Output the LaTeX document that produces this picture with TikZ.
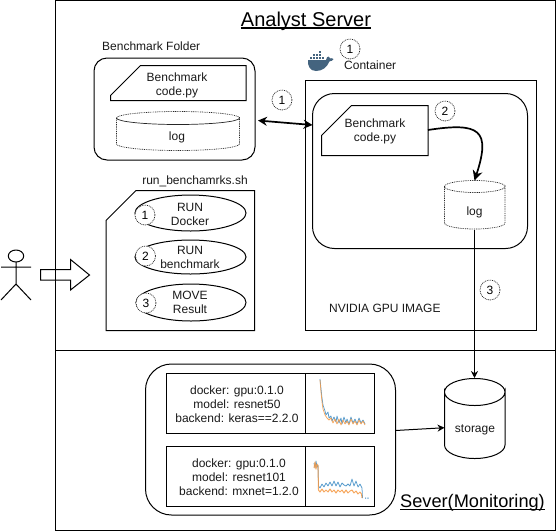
\documentclass[tikz,border=0pt]{standalone}
\usepackage{fontspec}
\setmainfont{Liberation Sans}
\usetikzlibrary{arrows.meta,shapes.geometric}
\newcommand\ulin[1]{\setbox0\hbox{#1}\rlap{\rule[-2.4pt]{\wd0}{1.1pt}}\box0}
\newcommand\cylshape[6]{% x0 x1 ytop ybottom ry style
  \draw[#6] (#1,#3+#5) arc[start angle=180,end angle=360,x radius={(#2-#1)/2},y radius=#5]
    arc[start angle=0,end angle=180,x radius={(#2-#1)/2},y radius=#5]
    (#1,#3+#5) arc[start angle=180,end angle=0,x radius={(#2-#1)/2},y radius=#5]
    -- (#2,#4-#5) arc[start angle=0,end angle=180,x radius={(#2-#1)/2},y radius=#5] -- cycle;}
\newcommand\notebox[5]{% x0 y0 x1 y1 cut
  \draw[shapeline] (#1,#2+#5) -- (#1+#5,#2) -- (#3,#2) -- (#3,#4) -- (#1,#4) -- cycle;}
\tikzset{
  shapeline/.style={draw=black,line width=1pt,line join=miter},
  dotline/.style={draw=black!85,line width=.7pt,dash pattern=on .9pt off .9pt},
  lbl/.style={font=\fontsize{12}{14}\selectfont,align=center,inner sep=0pt,text=black!90},
  anchorbox/.style={inner sep=0pt,outer sep=0pt,font=\fontsize{12}{14}\selectfont,align=center,text=black!90},
  numc/.style={circle,dotline,minimum size=20pt,inner sep=0pt,fill=white,font=\fontsize{12}{14}\selectfont},
  roundbox/.style={shapeline,rectangle,rounded corners=#1,inner sep=0pt,outer sep=0pt},
  oval/.style={ellipse,shapeline,inner sep=0pt,outer sep=0pt,fill=white,font=\fontsize{12}{14}\selectfont,align=center},
  conn/.style={draw=black,line width=1pt,-{Stealth[length=7pt,width=7pt]}},
  thickconn/.style={draw=black,line width=1.7pt},
  bluec/.style={draw=blue1,line width=.75pt,opacity=.85,line join=round},
  orangec/.style={draw=orange1,line width=.75pt,opacity=.85,line join=round}
}
\definecolor{blue1}{HTML}{3A8AC4}
\definecolor{orange1}{HTML}{F59A45}
\definecolor{whale}{HTML}{44647F}
\begin{document}
\begin{tikzpicture}[x=1pt,y=-1pt]
\useasboundingbox (0,0) rectangle (556,531);
% frames
\node[shapeline,minimum width=500pt,minimum height=350pt,inner sep=0pt,outer sep=0pt,anchor=north west] (server) at (55.5,.5) {};
\node[shapeline,minimum width=500pt,minimum height=180pt,inner sep=0pt,outer sep=0pt,anchor=north west] (monitor) at (55.5,350.5) {};
\node[inner sep=0pt,font=\fontsize{20}{24}\selectfont] (title) at (306,21) {\ulin{Analyst Server}};
\node[inner sep=0pt,font=\fontsize{18.2}{24}\selectfont] (title2) at (472.5,503) {\ulin{Sever(Monitoring)}};

% benchmark folder
\node[lbl,anchor=west] (foldertxt) at (102,46) {Benchmark Folder};
\node[roundbox=13pt,minimum width=161pt,minimum height=102pt] (folder) at (174.5,109) {};
\notebox{110.5}{65.5}{246}{100.5}{30}
\node[anchorbox] (doc1) at (177,85) {Benchmark\\code.py};
\cylshape{116.5}{239.5}{111.5}{150.5}{6.5}{dotline}
\node[anchorbox] (log1) at (177,137) {log};

% script
\node[lbl] (scripttxt) at (195,181) {run\_benchamrks.sh};
\notebox{106}{190.5}{254.5}{330.5}{30}
\node[oval,minimum width=111pt,minimum height=36pt] (e1) at (190.5,213) {};
\node[oval,minimum width=111pt,minimum height=34pt] (e2) at (190.5,257) {};
\node[oval,minimum width=110pt,minimum height=37pt] (e3) at (191,302.5) {};
\node[anchorbox] (e1t) at (190,214) {RUN\\Docker};
\node[anchorbox] (e2t) at (190,257.5) {RUN\\benchmark};
\node[anchorbox] (e3t) at (190,302.5) {MOVE\\Result};
\node[numc] (n1) at (145,215) {1};
\node[numc] (n2) at (145.5,256) {2};
\node[numc] (n3) at (146,303) {3};

% actor
\draw[shapeline] (16,256) ellipse[x radius=7.7,y radius=6];
\draw[shapeline] (16,262) -- (16,284) (1,267) -- (31,267) (1,300) -- (16,284) -- (31,300);
% block arrow
\draw[shapeline] (40.5,269.5) -- (70.5,269.5) -- (70.5,259.5) -- (89.5,275) -- (70.5,290) -- (70.5,280) -- (40.5,280) -- cycle;

% container
\node[shapeline,minimum width=231pt,minimum height=250pt,inner sep=0pt,outer sep=0pt,anchor=north west] (gpu) at (305.5,80.5) {};
\node[roundbox=22pt,minimum width=215pt,minimum height=155pt,anchor=north west] (cont) at (312.5,93.5) {};
\notebox{321.5}{105.5}{428}{155.5}{30}
\node[anchorbox,minimum width=106pt,minimum height=50pt] (doc2) at (375,130) {};
\node[anchorbox] (doc2t) at (375,131) {Benchmark\\code.py};
\cylshape{444.5}{505}{180.5}{229}{6}{dotline}
\node[anchorbox,minimum width=60pt,minimum height=49pt] (log2) at (474.5,205) {};
\node[anchorbox] (log2t) at (474.5,212) {log};
\node[lbl,anchor=west] (nvidia) at (329,308) {NVIDIA GPU IMAGE};
\node[lbl,anchor=west] (contt) at (344,65) {Container};
\node[numc] (c1) at (350,49) {1};
\node[numc] (c2) at (445,111) {2};
\node[numc] (c3) at (490,290) {3};
\node[numc] (c4) at (282,100) {1};

% docker whale
\fill[whale] (308,60) -- (326,60) .. controls (326.5,57.5) and (327.5,56.5) .. (328.5,56.5)
  .. controls (329.5,57.5) and (330,58) .. (330.3,58.5) .. controls (331,58) and (332.5,58) .. (333.5,59)
  .. controls (332.5,60.8) and (331,61.3) .. (329.5,61.3) .. controls (327,67.5) and (322,71) .. (316,71)
  .. controls (310,71) and (307.5,66) .. (308,60) -- cycle;
\foreach \bx/\by in {309.5/56.5,312.5/56.5,315.5/56.5,318.5/56.5,321.5/56.5,312.5/53.5,315.5/53.5,318.5/53.5,318.5/50.5}
  \fill[whale] (\bx,\by) rectangle ++(2.4,2.6);

% connectors upper
\draw[thickconn,{Stealth[length=9pt,width=9pt]}-{Stealth[length=9pt,width=9pt]}] (folder.east) ++(3,11.5) coordinate (fa) -- (cont.west |- 0,125) coordinate (ca);
\coordinate (cs) at (doc2.east);
\coordinate (ct) at (log2.north);
\draw[thickconn,-{Stealth[length=10pt,width=10pt]}] (cs) .. controls (480,122) and (491,130) .. (ct);
\draw[conn] (log2.south) -- (474.5,378);

% monitoring
\node[roundbox=26pt,minimum width=250pt,minimum height=151pt] (mon) at (270.5,439.5) {};
\node[shapeline,minimum width=208pt,minimum height=60pt,inner sep=0pt,outer sep=0pt] (card1) at (270.5,403.5) {};
\node[shapeline,minimum width=208pt,minimum height=60pt,inner sep=0pt,outer sep=0pt] (card2) at (270.5,476.5) {};
\draw[shapeline] (305.5,373.5) -- (305.5,433.5) (305.5,446.5) -- (305.5,506.5);
\node[anchorbox] (t1) at (237,404) {docker: gpu:0.1.0\\model: resnet50\\backend: keras==2.2.0};
\node[anchorbox] (t2) at (239,477) {docker: gpu:0.1.0\\model: resnet101\\backend: mxnet=1.2.0};
% charts
\draw[bluec] (320,379) -- (321,389) -- (322,398) -- (323,405) -- (325,411) -- (326,415) -- (328,412) -- (329,418) -- (331,416) -- (332,421) -- (334,417) -- (336,422) -- (337,416) -- (339,423) -- (341,418) -- (342,424) -- (344,417) -- (346,423) -- (347,419) -- (349,424) -- (351,417) -- (353,423) -- (355,419) -- (357,424) -- (359,418) -- (361,423) -- (363,420) -- (365,424);
\draw[orangec] (320,380) -- (321,392) -- (322,402) -- (323,409) -- (325,415) -- (327,418) -- (329,420) -- (331,418) -- (333,423) -- (335,419) -- (337,424) -- (339,419) -- (341,425) -- (343,420) -- (345,424) -- (347,421) -- (349,425) -- (351,419) -- (353,424) -- (355,421) -- (357,425) -- (359,420) -- (361,424) -- (363,421) -- (365,425);
\draw[bluec] (314,463) -- (315,468) -- (316,461) -- (317,467) -- (318,465) -- (318.5,486) -- (320,488) -- (322,484) -- (324,487) -- (326,483) -- (328,486) -- (330,482) -- (332,486) -- (334,481) -- (336,486) -- (338,482) -- (340,487) -- (342,483) -- (344,485) -- (346,486) -- (348,484) -- (350,486) -- (352,479) -- (354,486) -- (356,481) -- (358,487) -- (360,484) -- (362,488) -- (362.5,498);
\draw[orangec,line width=1pt] (314,468) -- (315,462) -- (316,469) -- (317,464) -- (318,466) -- (318.5,490) -- (320,492) -- (322,489) -- (324,492) -- (326,490) -- (328,492) -- (330,489) -- (332,492) -- (334,490) -- (336,493) -- (338,490) -- (340,492) -- (342,490) -- (344,493) -- (346,490) -- (348,493) -- (350,491) -- (352,490) -- (354,493) -- (356,491) -- (358,494) -- (360,492) -- (361.5,494) -- (362,498);
\fill[blue1] (365,497.7) rectangle ++(1.2,1) (367.3,497.7) rectangle ++(1.2,1);

% storage
\cylshape{444.5}{505}{378.5}{458.5}{13.5}{shapeline}
\node[anchorbox,minimum width=60pt,minimum height=80pt] (storage) at (474.5,418.5) {};
\node[anchorbox] (storaget) at (475,430) {storage};
\draw[conn] (mon.east) ++(0,-9) coordinate (ms) -- (storage.west |- 0,427.7) coordinate (st);
\end{tikzpicture}
\end{document}
